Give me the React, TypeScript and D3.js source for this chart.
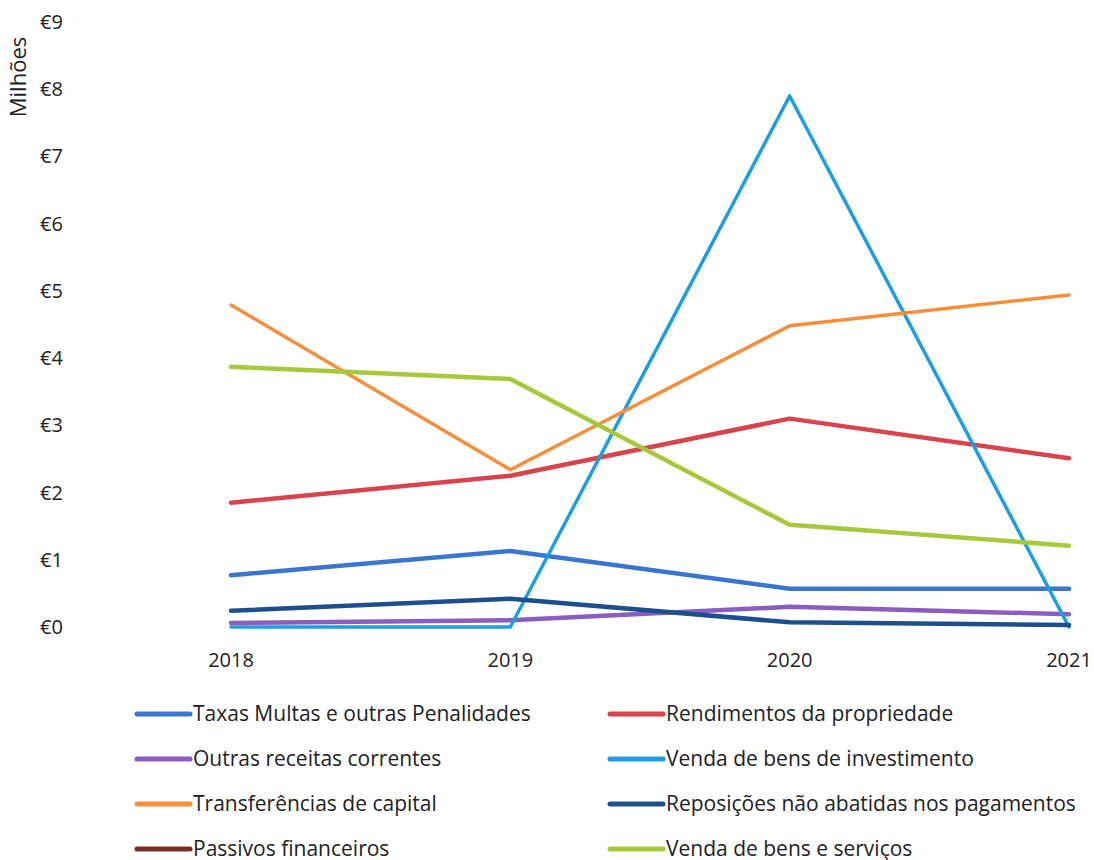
import * as d3 from "d3";

const years = ["2018", "2019", "2020", "2021"];
const yTicks = [0, 1, 2, 3, 4, 5, 6, 7, 8, 9];

const seriesNames = [
  "Taxas Multas e outras Penalidades",
  "Rendimentos da propriedade",
  "Outras receitas correntes",
  "Venda de bens de investimento",
  "Transferências de capital",
  "Reposições não abatidas nos pagamentos",
  "Passivos financeiros",
  "Venda de bens e serviços",
];

const taxas = [0.77, 1.13, 0.57, 0.57];
const rendimentos = [1.85, 2.25, 3.1, 2.51];
const outras = [0.06, 0.1, 0.3, 0.19];
const vendaInvest = [0.0, 0.0, 7.9, 0.0];
const transferencias = [4.79, 2.34, 4.48, 4.94];
const reposicoes = [0.24, 0.42, 0.07, 0.03];
// no values shown in the chart for this series
const passivos: (number | null)[] = [null, null, null, null];
const vendaBens = [3.87, 3.69, 1.52, 1.21];

const seriesValues: (number | null)[][] = [taxas, rendimentos, outras, vendaInvest, transferencias, reposicoes, passivos, vendaBens];
const colors = ["#3a76cf", "#d8434d", "#8a5dc0", "#1e9ee0", "#f78e3c", "#1d4f8f", "#7b2a2a", "#a6c83a"];
const widths = [4.5, 4.5, 4.5, 3.5, 3.5, 4.5, 4.5, 4.5];

const font = "'Open Sans', sans-serif";

export default function App() {
  const width = 1094;
  const height = 860;
  const x = d3.scalePoint<string>().domain(years).range([231, 1069]);
  const y = d3.scaleLinear().domain([0, 9]).range([627, 22]);
  const line = d3
    .line<number | null>()
    .defined((d) => d != null)
    .x((_, i) => x(years[i]) ?? 0)
    .y((d) => y(d as number));

  return (
    <svg
      width={width}
      height={height}
      style={{ position: "absolute", left: 0, top: 0, background: "#fff" }}
      fontFamily={font}
    >
      <rect width={width} height={height} fill="#fff" />
      <text
        transform="translate(26,77) rotate(-90)"
        textAnchor="middle"
        fontSize={22}
        fill="#222"
      >
        Milhões
      </text>
      {yTicks.map((t) => (
        <text key={t} x={40} y={y(t)} dy="0.35em" fontSize={20} fill="#222">
          €{t}
        </text>
      ))}
      {years.map((yr) => (
        <text key={yr} x={x(yr)} y={660} dy="0.35em" textAnchor="middle" fontSize={20} fill="#222">
          {yr}
        </text>
      ))}
      {seriesValues.map((vals, i) => (
        <path
          key={seriesNames[i]}
          d={line(vals) ?? ""}
          fill="none"
          stroke={colors[i]}
          strokeWidth={widths[i]}
          strokeLinejoin="round"
          strokeLinecap="round"
        />
      ))}
      {seriesNames.map((name, i) => {
        const col = i % 2;
        const row = Math.floor(i / 2);
        const lx = col === 0 ? 137 : 610;
        const ly = 714 + row * 45;
        return (
          <g key={name}>
            <line x1={lx} x2={lx + 53} y1={ly} y2={ly} stroke={colors[i]} strokeWidth={5} strokeLinecap="round" />
            <text x={lx + 56} y={ly} dy="0.35em" fontSize={21} fill="#222">
              {name}
            </text>
          </g>
        );
      })}
    </svg>
  );
}
